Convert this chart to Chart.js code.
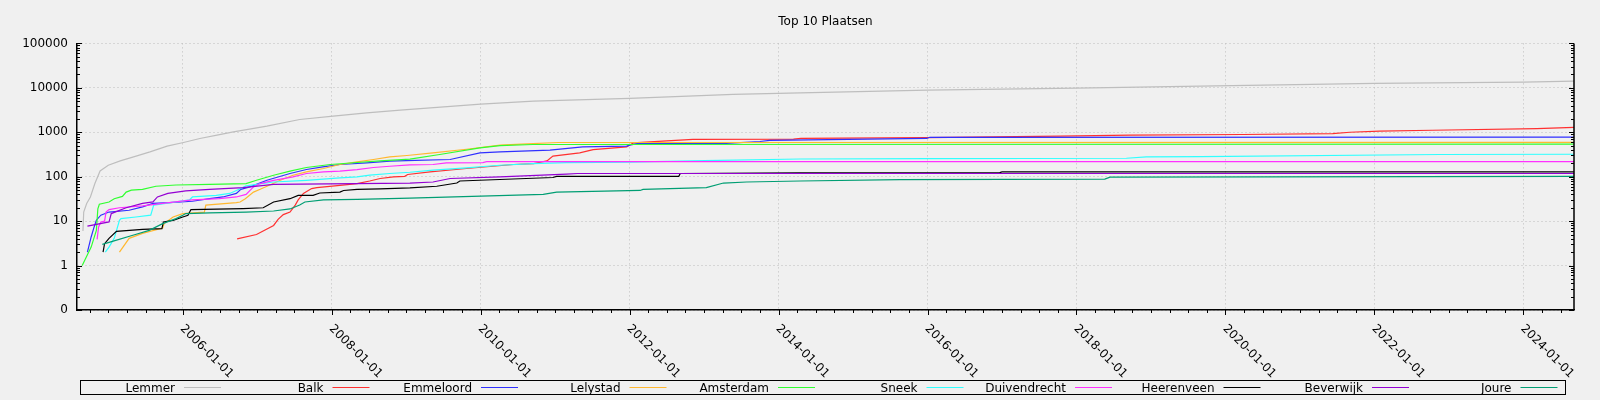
<!DOCTYPE html>
<html>
<head>
<meta charset="utf-8">
<title>Top 10 Plaatsen</title>
<script src="https://cdn.jsdelivr.net/npm/chart.js@4.4.1/dist/chart.umd.min.js"></script>
<style>
  html, body { margin: 0; padding: 0; background: #f0f0f0; }
  #wrap { width: 1600px; height: 400px; position: relative; }
</style>
</head>
<body>
<div id="wrap"><canvas id="g1"></canvas></div>
<script>
// plaatsen + kleuren (volgorde van de legenda)
const plaatsen = ['Lemmer', 'Balk', 'Emmeloord', 'Lelystad', 'Amsterdam', 'Sneek', 'Duivendrecht', 'Heerenveen', 'Beverwijk', 'Joure'];
const kleuren = ['#bebebe', '#ff3030', '#3030ff', '#ffb830', '#30ff30', '#30ffff', '#ff30ff', '#000000', '#9400d3', '#009e73'];

// as-labels
const xTickValues = [2006, 2008, 2010, 2012, 2014, 2016, 2018, 2020, 2022, 2024];
const xTickLabels = ['2006-01-01', '2008-01-01', '2010-01-01', '2012-01-01', '2014-01-01', '2016-01-01', '2018-01-01', '2020-01-01', '2022-01-01', '2024-01-01'];
const yTickValues = [0.1, 1, 10, 100, 1000, 10000, 100000];
const yTickLabels = ['0', '1', '10', '100', '1000', '10000', '100000'];

// cumulatieve aantallen per plaats (jaar als decimaal getal)
const lemmerJaar = [2004.66, 2004.67, 2004.71, 2004.76, 2004.82, 2004.89, 2005.00, 2005.16, 2005.34, 2005.56, 2005.79, 2006.01, 2006.23, 2006.46, 2006.68, 2007.13, 2007.57, 2008.02, 2008.47, 2008.92, 2010.00, 2010.71, 2012.00, 2013.39, 2014.29, 2016.00, 2018.00, 2019.66, 2022.00, 2024.00, 2024.68];
const lemmerAantal = [6, 16, 25, 35, 70, 135, 181, 227, 279, 362, 487, 589, 725, 860, 1023, 1370, 1940, 2305, 2738, 3146, 4295, 5010, 5770, 7100, 7710, 8880, 9840, 10920, 12560, 13430, 14150];

const balkJaar = [2006.73, 2006.99, 2007.22, 2007.28, 2007.35, 2007.44, 2007.51, 2007.55, 2007.62, 2007.73, 2007.80, 2008.11, 2008.34, 2008.51, 2008.65, 2008.83, 2008.98, 2009.02, 2009.32, 2009.81, 2010.44, 2010.71, 2010.89, 2010.97, 2011.33, 2011.51, 2011.96, 2012.05, 2012.50, 2012.85, 2014.20, 2014.30, 2015.99, 2017.78, 2018.72, 2020.23, 2021.44, 2021.67, 2022.07, 2022.78, 2024.18, 2024.68];
const balkAantal = [4, 5, 8, 11, 14, 16, 23, 30, 42, 54, 57, 64, 70, 80, 91, 99, 102, 112, 128, 153, 188, 197, 227, 290, 343, 407, 468, 576, 640, 690, 700, 725, 760, 815, 860, 890, 930, 1000, 1060, 1110, 1210, 1290];

const emmeloordJaar = [2004.72, 2004.77, 2004.81, 2004.84, 2004.90, 2005.01, 2005.28, 2005.46, 2005.60, 2005.82, 2006.13, 2006.36, 2006.54, 2006.72, 2006.78, 2006.90, 2007.13, 2007.44, 2007.66, 2007.88, 2008.11, 2008.47, 2008.78, 2009.00, 2009.59, 2009.99, 2010.26, 2010.93, 2011.37, 2011.96, 2012.00, 2012.10, 2013.30, 2013.75, 2013.88, 2015.99, 2016.03, 2024.68];
const emmeloordAantal = [2, 4.4, 7.4, 10.5, 13.6, 16, 17.6, 21, 25, 26, 28, 32, 35, 42, 52, 59, 83, 118, 145, 167, 188, 205, 224, 230, 244, 343, 362, 397, 468, 487, 514, 555, 560, 620, 660, 725, 770, 780];

const lelystadJaar = [2005.15, 2005.28, 2005.46, 2005.73, 2005.75, 2005.87, 2006.00, 2006.29, 2006.31, 2006.72, 2006.77, 2006.84, 2006.95, 2007.04, 2007.13, 2007.31, 2007.48, 2007.66, 2007.89, 2008.11, 2008.34, 2008.56, 2008.78, 2009.01, 2009.36, 2009.81, 2010.26, 2010.62, 2011.04, 2024.68];
const lelystadAantal = [2, 4.1, 5.3, 7, 8.8, 12.4, 14.8, 16, 23, 26, 27, 32, 45, 52, 61, 83, 108, 128, 153, 188, 215, 244, 279, 300, 343, 415, 514, 548, 589, 590];

const amsterdamJaar = [2004.65, 2004.77, 2004.84, 2004.86, 2004.88, 2005.01, 2005.08, 2005.19, 2005.24, 2005.31, 2005.46, 2005.64, 2005.91, 2006.36, 2006.85, 2006.99, 2007.22, 2007.44, 2007.66, 2007.98, 2008.34, 2008.65, 2009.05, 2009.45, 2009.99, 2010.26, 2010.70, 2024.68];
const amsterdamAantal = [1, 2.6, 6.2, 19, 24, 27, 32, 36, 45, 50, 52, 61, 65, 67, 70, 83, 108, 134, 161, 188, 209, 227, 248, 316, 447, 500, 531, 540];

const sneekJaar = [2004.96, 2005.01, 2005.08, 2005.15, 2005.17, 2005.37, 2005.57, 2005.61, 2005.91, 2006.09, 2006.13, 2006.45, 2006.63, 2006.72, 2006.85, 2007.22, 2007.66, 2008.11, 2008.34, 2008.51, 2008.78, 2009.05, 2009.36, 2009.81, 2010.26, 2010.70, 2011.15, 2012.00, 2013.00, 2014.29, 2016.00, 2018.67, 2018.94, 2019.66, 2022.88, 2024.68];
const sneekAantal = [2, 2.6, 4.1, 10.4, 11.4, 12.4, 13.6, 23, 27, 30, 35, 38, 42, 49, 62, 76, 83, 94, 99, 108, 118, 126, 140, 158, 181, 197, 208, 212, 230, 250, 255, 260, 280, 283, 316, 320];

const duivendrechtJaar = [2004.85, 2004.87, 2004.90, 2004.95, 2004.97, 2005.01, 2005.15, 2005.46, 2005.73, 2006.13, 2006.49, 2006.72, 2006.85, 2006.95, 2007.04, 2007.22, 2007.48, 2007.66, 2007.89, 2008.11, 2008.34, 2008.56, 2008.78, 2009.05, 2009.36, 2009.54, 2010.03, 2010.08, 2024.68];
const duivendrechtAantal = [3.9, 7.4, 9.6, 10, 16, 18.2, 20, 22, 25, 30, 32, 35, 40, 59, 70, 83, 99, 118, 128, 134, 145, 161, 172, 184, 188, 205, 208, 218, 218];

const heerenveenJaar = [2004.93, 2004.95, 2005.01, 2005.11, 2005.46, 2005.72, 2005.74, 2005.87, 2006.00, 2006.07, 2006.11, 2006.81, 2007.08, 2007.22, 2007.44, 2007.55, 2007.75, 2007.84, 2008.11, 2008.16, 2008.34, 2008.65, 2009.05, 2009.41, 2009.68, 2009.72, 2010.97, 2011.02, 2012.66, 2012.68, 2014.29, 2016.97, 2017.00, 2024.68];
const heerenveenAantal = [2, 3.1, 4.1, 5.9, 6.5, 6.8, 9.6, 10.4, 12.4, 13.6, 18.2, 19.2, 20, 27, 32, 38, 38, 43, 45, 49, 52, 53, 56, 61, 72, 80, 96, 102, 102, 118, 122, 124, 128, 128];

const beverwijkJaar = [2004.72, 2005.01, 2005.04, 2005.24, 2005.46, 2005.60, 2005.66, 2005.80, 2006.04, 2006.36, 2006.81, 2007.22, 2009.05, 2009.36, 2009.59, 2010.26, 2011.15, 2011.30, 2024.68];
const beverwijkAantal = [7.7, 9.6, 14.8, 20, 25, 27, 35, 42, 48, 52, 57, 67, 72, 76, 91, 99, 114, 118, 118];

const joureJaar = [2004.92, 2005.10, 2005.33, 2005.55, 2005.73, 2005.91, 2006.00, 2006.04, 2006.36, 2006.85, 2007.22, 2007.44, 2007.57, 2007.64, 2007.89, 2008.34, 2009.05, 2010.84, 2011.02, 2012.14, 2012.18, 2013.03, 2013.26, 2013.57, 2014.29, 2015.63, 2018.38, 2018.45, 2024.68];
const joureAantal = [3, 3.7, 4.8, 6.2, 8.8, 11.4, 13.6, 14.8, 15.3, 16, 16.9, 18.8, 23, 27, 30, 31, 33, 40, 45, 49, 52, 57, 72, 76, 80, 86, 88, 98, 102];

const reeksen = [
    [lemmerJaar, lemmerAantal], [balkJaar, balkAantal], [emmeloordJaar, emmeloordAantal],
    [lelystadJaar, lelystadAantal], [amsterdamJaar, amsterdamAantal], [sneekJaar, sneekAantal],
    [duivendrechtJaar, duivendrechtAantal], [heerenveenJaar, heerenveenAantal],
    [beverwijkJaar, beverwijkAantal], [joureJaar, joureAantal]
];

Chart.defaults.font.family = 'DejaVu Sans';
Chart.defaults.font.size = 12;
Chart.defaults.color = '#000';

// achtergrond, kleine streepjes, schuine x-labels en legenda zelf tekenen
const gnuplotLook = {
    id: 'gnuplotLook',
    beforeDraw(chart) {
        const ctx = chart.ctx;
        ctx.save();
        ctx.fillStyle = '#f0f0f0';
        ctx.fillRect(0, 0, chart.width, chart.height);
        ctx.restore();
    },
    afterDraw(chart) {
        const {ctx, chartArea: a, scales: {x, y}} = chart;
        const line = (x1, y1, x2, y2) => { ctx.beginPath(); ctx.moveTo(x1, y1); ctx.lineTo(x2, y2); ctx.stroke(); };
        ctx.save();
        ctx.strokeStyle = '#000';
        ctx.lineWidth = 1.5;
        line(a.right, a.top, a.right, a.bottom);

        // y ticks links en rechts, naar binnen
        ctx.lineWidth = 1;
        for (let d = -1; d < 5; d++) {
            for (let m = 1; m <= 10; m++) {
                const v = Math.pow(10, d) * m;
                const py = Math.round(y.getPixelForValue(v)) + 0.5;
                const len = (m === 1 || m === 10) ? 5 : 3;
                line(a.left, py, a.left + len, py);
                line(a.right, py, a.right - len, py);
            }
        }

        // x ticks per kwartaal, naar buiten
        for (let q = Math.ceil(x.min * 4); q <= x.max * 4; q++) {
            const px = Math.round(x.getPixelForValue(q / 4)) + 0.5;
            const len = xTickValues.includes(q / 4) ? 5 : 3;
            line(px, a.bottom, px, a.bottom + len);
        }

        // x labels schuin
        ctx.fillStyle = '#000';
        ctx.font = '12px "DejaVu Sans"';
        ctx.textAlign = 'left';
        ctx.textBaseline = 'alphabetic';
        xTickValues.forEach(function(v, i) {
            const px = x.getPixelForValue(v);
            ctx.save();
            ctx.translate(px - 3, a.bottom + 19);
            ctx.rotate(Math.PI / 4);
            ctx.fillText(xTickLabels[i], 0, 0);
            ctx.restore();
        });

        // legenda
        const boxLeft = 80.5, boxTop = 380.5, cellW = 148.5;
        ctx.strokeStyle = '#000';
        ctx.strokeRect(boxLeft, boxTop, cellW * 10, 14);
        ctx.textAlign = 'right';
        chart.data.datasets.forEach(function(ds, i) {
            const lineEnd = boxLeft + 140.5 + i * cellW;
            ctx.strokeStyle = ds.borderColor;
            line(lineEnd - 37, 387.5, lineEnd, 387.5);
            ctx.fillStyle = '#000';
            ctx.fillText(ds.label, lineEnd - 46, 392);
        });
        ctx.restore();
    }
};

var ctx = document.getElementById('g1');

var myChart = new Chart(ctx, {
    type: 'line',
    data: {
        datasets: plaatsen.map(function(p, i) {
            return {
                label: p,
                data: reeksen[i][0].map(function(j, k) { return {x: j, y: reeksen[i][1][k]}; }),
                borderColor: kleuren[i],
                backgroundColor: kleuren[i],
                borderWidth: 1.2,
                pointRadius: 0,
                fill: false,
                tension: 0,
                order: plaatsen.length - i
            };
        })
    },
    options: {
        responsive: true,
        maintainAspectRatio: false,
        animation: false,
        layout: { padding: {left: 0, right: 26, top: 0, bottom: 0} },
        plugins: {
            legend: { display: false },
            tooltip: { enabled: false },
            title: {
                display: true,
                text: 'Top 10 Plaatsen',
                fullSize: false,
                color: '#000',
                font: { size: 12, weight: 'normal' },
                padding: { top: 15, bottom: 14 }
            }
        },
        scales: {
            x: {
                type: 'linear',
                min: 2004.58,
                max: 2024.68,
                afterBuildTicks: function(s) { s.ticks = xTickValues.map(function(v) { return {value: v}; }); },
                afterFit: function(s) { s.height = 90; },
                ticks: { display: false },
                grid: { color: '#bdbdbd', drawTicks: false },
                border: { color: '#000', width: 1.5, dash: [1, 3] }
            },
            y: {
                type: 'logarithmic',
                min: 0.1,
                max: 100000,
                afterBuildTicks: function(s) { s.ticks = yTickValues.map(function(v) { return {value: v}; }); },
                afterFit: function(s) { s.width = 77; },
                ticks: {
                    autoSkip: false,
                    padding: 9,
                    color: '#000',
                    callback: function(v, i) { return yTickLabels[i]; }
                },
                grid: { color: '#bdbdbd', drawTicks: false },
                border: { color: '#000', width: 1.5, dash: [1, 3] }
            }
        }
    },
    plugins: [gnuplotLook]
});
</script>
</body>
</html>
